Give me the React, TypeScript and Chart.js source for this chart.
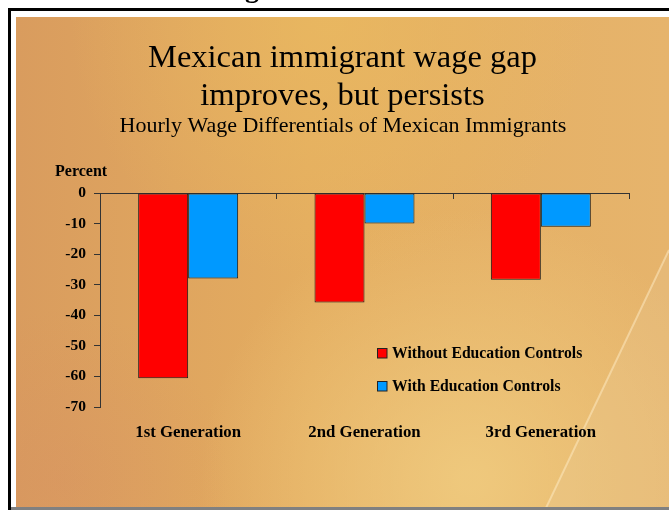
import { useEffect, useRef } from "react";
import { Chart, registerables } from "chart.js";
Chart.register(...registerables);

const categories = ["1st Generation", "2nd Generation", "3rd Generation"];
const withoutControls = [-60.6, -35.8, -28.4];
const withControls = [-28, -10, -11];
const seriesLabels = ["Without Education Controls", "With Education Controls"];
const seriesColors = ["#FF0000", "#0099FF"];
const titleLines = ["Mexican immigrant wage gap", "improves, but persists"];
const subtitleText = "Hourly Wage Differentials of Mexican Immigrants";
const yAxisTitle = "Percent";
const yTicks = [0, -10, -20, -30, -40, -50, -60, -70];

const SERIF = '"Liberation Serif", "Times New Roman", serif';
const W = 669;
const H = 510;

const backgroundPlugin = {
  id: "slideBackground",
  beforeDraw(chart: any) {
    const ctx = chart.ctx as CanvasRenderingContext2D;
    ctx.save();
    ctx.fillStyle = "#ffffff";
    ctx.fillRect(0, 0, W, H);
    // black frame
    ctx.fillStyle = "#000000";
    ctx.fillRect(8, 8, W, 3);
    ctx.fillRect(8, 8, 3, H);
    // slide body
    const x0 = 16, y0 = 17, y1 = 507;
    ctx.beginPath();
    ctx.rect(x0, y0, W - x0, y1 - y0);
    ctx.clip();
    const lg = ctx.createLinearGradient(x0, 0, W, 0);
    lg.addColorStop(0, "#D99C5E");
    lg.addColorStop(0.45, "#E4AD60");
    lg.addColorStop(1, "#E6B46C");
    ctx.fillStyle = lg;
    ctx.fillRect(x0, y0, W, H);
    const tg = ctx.createRadialGradient(330, 20, 10, 330, 20, 260);
    tg.addColorStop(0, "rgba(234,186,96,0.7)");
    tg.addColorStop(1, "rgba(234,186,96,0)");
    ctx.fillStyle = tg;
    ctx.fillRect(x0, y0, W, H);
    const rg = ctx.createRadialGradient(470, 480, 10, 470, 480, 270);
    rg.addColorStop(0, "rgba(240,204,128,0.85)");
    rg.addColorStop(1, "rgba(240,204,128,0)");
    ctx.fillStyle = rg;
    ctx.fillRect(x0, y0, W, H);
    const pg = ctx.createRadialGradient(60, 480, 5, 60, 480, 170);
    pg.addColorStop(0, "rgba(214,140,100,0.3)");
    pg.addColorStop(1, "rgba(214,140,100,0)");
    ctx.fillStyle = pg;
    ctx.fillRect(x0, y0, W, H);
    // lighter region right of the streak
    ctx.beginPath();
    ctx.moveTo(W, 250);
    ctx.quadraticCurveTo(612, 370, 545, 510);
    ctx.lineTo(W, 510);
    ctx.closePath();
    ctx.fillStyle = "rgba(234,204,160,0.22)";
    ctx.fill();
    ctx.beginPath();
    ctx.moveTo(W, 250);
    ctx.quadraticCurveTo(612, 370, 545, 510);
    ctx.strokeStyle = "rgba(255,238,200,0.5)";
    ctx.lineWidth = 2;
    ctx.stroke();
    ctx.restore();
    // bottom gray bar
    ctx.save();
    ctx.fillStyle = "#808080";
    ctx.fillRect(11, 507, W, 3);
    ctx.restore();
    // partial heading above the frame
    ctx.save();
    ctx.fillStyle = "#000";
    ctx.font = `bold 28px ${SERIF}`;
    ctx.textAlign = "center";
    ctx.textBaseline = "alphabetic";
    ctx.fillText("g", 252, -3);
    ctx.restore();
    // titles
    ctx.save();
    ctx.fillStyle = "#000";
    ctx.textAlign = "center";
    ctx.textBaseline = "alphabetic";
    ctx.font = `32.5px ${SERIF}`;
    ctx.fillText(titleLines[0], 342.5, 67);
    ctx.fillText(titleLines[1], 342.5, 105);
    ctx.font = `22px ${SERIF}`;
    ctx.fillText(subtitleText, 343, 132);
    ctx.textAlign = "left";
    ctx.font = `bold 16px ${SERIF}`;
    ctx.fillText(yAxisTitle, 55, 176);
    ctx.restore();
  },
  beforeDatasetsDraw(chart: any) {
    const ctx = chart.ctx as CanvasRenderingContext2D;
    const xs = chart.scales.x;
    const ys = chart.scales.y;
    const y0 = ys.getPixelForValue(0);
    ctx.save();
    ctx.strokeStyle = "#333";
    ctx.lineWidth = 1;
    ctx.beginPath();
    ctx.moveTo(chart.chartArea.left, Math.round(y0) + 0.5);
    ctx.lineTo(chart.chartArea.right, Math.round(y0) + 0.5);
    for (let i = 1; i <= categories.length; i++) {
      const x = Math.round(xs.getPixelForValue(i - 0.5)) + 0.5;
      ctx.moveTo(x, y0);
      ctx.lineTo(x, y0 + 6);
    }
    ctx.stroke();
    ctx.restore();
  },
  afterDraw(chart: any) {
    const ctx = chart.ctx as CanvasRenderingContext2D;
    const rows = [353, 386];
    ctx.save();
    ctx.font = `bold 15.7px ${SERIF}`;
    ctx.textBaseline = "middle";
    ctx.textAlign = "left";
    chart.data.datasets.forEach((ds: any, i: number) => {
      const cy = rows[i];
      ctx.fillStyle = ds.backgroundColor;
      ctx.fillRect(377.5, cy - 4.5, 9.5, 9.5);
      ctx.strokeStyle = "#222";
      ctx.lineWidth = 1;
      ctx.strokeRect(377.5, cy - 4.5, 9.5, 9.5);
      ctx.fillStyle = "#000";
      ctx.fillText(ds.label, 392, cy + 0.5);
    });
    ctx.restore();
  },
};

export default function App() {
  const ref = useRef<HTMLCanvasElement>(null);
  useEffect(() => {
    if (!ref.current) return;
    const chart = new Chart(ref.current, {
      type: "bar",
      data: {
        labels: categories,
        datasets: [
          {
            label: seriesLabels[0],
            data: withoutControls,
            backgroundColor: seriesColors[0],
            borderColor: "#1a1a1a",
            borderWidth: 1,
            borderSkipped: false,
          },
          {
            label: seriesLabels[1],
            data: withControls,
            backgroundColor: seriesColors[1],
            borderColor: "#1a1a1a",
            borderWidth: 1,
            borderSkipped: false,
          },
        ],
      },
      options: {
        responsive: false,
        animation: false,
        devicePixelRatio: 1,
        layout: { padding: { left: 16, right: 40, top: 193, bottom: 0 } },
        datasets: { bar: { categoryPercentage: 0.567, barPercentage: 1 } },
        plugins: {
          legend: { display: false },
          title: { display: false },
          tooltip: { enabled: false },
        },
        scales: {
          x: {
            grid: { display: false, drawTicks: false },
            border: { display: false },
            ticks: {
              color: "#000",
              padding: 16,
              font: { family: SERIF, size: 16.8, weight: "bold" },
            },
            afterFit: (s: any) => {
              s.height = 103;
            },
          },
          y: {
            min: -70,
            max: 0,
            afterBuildTicks: (s: any) => {
              s.ticks = yTicks.map((v) => ({ value: v }));
            },
            grid: {
              drawOnChartArea: false,
              drawTicks: true,
              tickLength: 6,
              color: "#333",
            },
            border: { display: true, color: "#333", width: 1 },
            ticks: {
              color: "#000",
              padding: 8,
              font: { family: SERIF, size: 15.5, weight: "bold" },
            },
            afterFit: (s: any) => {
              s.width = 84;
            },
          },
        },
      },
      plugins: [backgroundPlugin],
    });
    return () => chart.destroy();
  }, []);
  return (
    <canvas
      ref={ref}
      width={W}
      height={H}
      style={{ position: "fixed", left: 0, top: 0, width: W, height: H }}
    />
  );
}
